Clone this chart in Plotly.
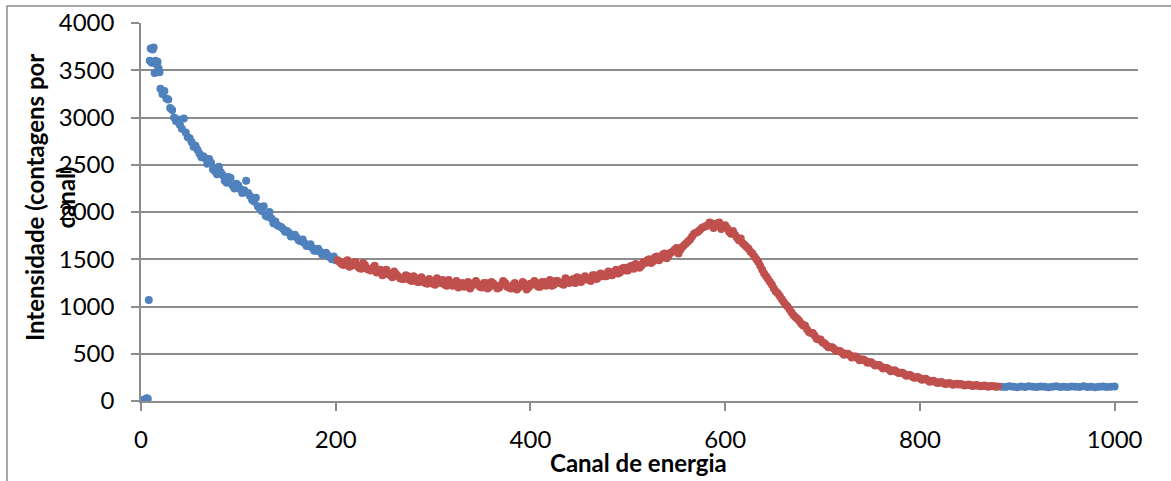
import plotly.graph_objects as go

# ---- data ----
blue_start_ch = [0, 1, 2, 3, 4, 5, 6, 7, 8, 9, 10, 11, 12, 13, 14, 15, 16, 17, 18, 19]
blue_start_val = [0, 5, 0, 10, 15, 20, 30, 25, 1070, 3600, 3730, 3580, 3720, 3740, 3470,
                  3600, 3560, 3590, 3520, 3480]

blue_mid_ch = list(range(20, 201, 4))
blue_mid_val = [3305, 3280, 3190, 3080, 2960, 2920, 2990, 2790, 2740, 2700,
                2620, 2590, 2510, 2520, 2430, 2480, 2390, 2310, 2360, 2250,
                2280, 2200, 2330, 2170, 2110, 2060, 2010, 1960, 2000, 1880,
                1860, 1840, 1790, 1780, 1750, 1730, 1690, 1670, 1640, 1620,
                1590, 1580, 1550, 1540, 1500, 1490]

blue_mid2_ch = list(range(22, 199, 4))
blue_mid2_val = [3250, 3200, 3100, 3000, 2980, 2880, 2840, 2780, 2690, 2660,
                 2580, 2570, 2560, 2450, 2400, 2420, 2330, 2370, 2280, 2300,
                 2240, 2230, 2200, 2130, 2150, 2040, 2060, 1950, 1930, 1900,
                 1850, 1820, 1800, 1740, 1760, 1700, 1710, 1640, 1660, 1590,
                 1610, 1550, 1570, 1520, 1530]

red_ch = list(range(204, 881, 4))
red_val = [1470, 1440, 1490, 1430, 1470, 1410, 1460, 1400, 1380, 1430,
           1370, 1330, 1390, 1330, 1370, 1320, 1290, 1330, 1280, 1320,
           1260, 1310, 1250, 1290, 1240, 1300, 1250, 1230, 1280, 1220,
           1270, 1230, 1210, 1260, 1220, 1270, 1210, 1250, 1190, 1260,
           1220, 1200, 1270, 1210, 1190, 1250, 1200, 1260, 1180, 1240,
           1270, 1210, 1260, 1220, 1280, 1230, 1270, 1240, 1300, 1250,
           1290, 1310, 1260, 1320, 1280, 1330, 1290, 1350, 1320, 1370,
           1330, 1390, 1360, 1410, 1380, 1430, 1450, 1410, 1470, 1490,
           1460, 1520, 1490, 1550, 1510, 1570, 1600, 1560, 1630, 1670,
           1710, 1770, 1790, 1830, 1850, 1890, 1830, 1880, 1820, 1860,
           1790, 1800, 1730, 1720, 1650, 1610, 1560, 1500, 1430, 1350,
           1290, 1230, 1160, 1110, 1050, 1000, 940, 890, 850, 800,
           760, 720, 690, 650, 620, 590, 570, 550, 530, 510,
           500, 485, 470, 455, 440, 425, 410, 395, 380, 365,
           350, 335, 320, 310, 300, 285, 272, 260, 250, 240,
           230, 220, 210, 202, 195, 190, 185, 182, 178, 175,
           172, 170, 168, 165, 162, 160, 158, 156, 155, 153]

red2_ch = list(range(202, 879, 4))
red2_val = [1490, 1450, 1470, 1420, 1450, 1430, 1400, 1440, 1390, 1410,
            1360, 1390, 1340, 1350, 1310, 1340, 1300, 1290, 1320, 1270,
            1300, 1260, 1280, 1240, 1270, 1230, 1260, 1280, 1220, 1250,
            1240, 1200, 1250, 1230, 1190, 1240, 1230, 1200, 1250, 1210,
            1240, 1190, 1230, 1250, 1200, 1230, 1180, 1220, 1240, 1200,
            1230, 1250, 1210, 1260, 1240, 1220, 1270, 1250, 1230, 1280,
            1270, 1250, 1300, 1280, 1300, 1270, 1330, 1310, 1340, 1320,
            1350, 1370, 1350, 1400, 1380, 1420, 1400, 1440, 1430, 1460,
            1500, 1480, 1530, 1510, 1560, 1540, 1580, 1620, 1600, 1650,
            1690, 1740, 1780, 1810, 1840, 1860, 1880, 1850, 1890, 1840,
            1830, 1770, 1760, 1700, 1670, 1630, 1580, 1530, 1470, 1390,
            1320, 1260, 1190, 1140, 1080, 1020, 970, 910, 870, 820,
            800, 730, 720, 660, 650, 610, 570, 570, 530, 530,
            490, 500, 460, 470, 430, 440, 405, 410, 375, 380,
            345, 350, 315, 325, 295, 300, 268, 275, 245, 255,
            225, 235, 205, 215, 190, 200, 180, 190, 172, 183,
            180, 165, 175, 160, 170, 155, 165, 152, 160, 150]

blue_end_ch = list(range(884, 1001, 4))
blue_end_val = [152, 148, 155, 150, 146, 153, 149, 157, 151, 147,
                154, 150, 145, 152, 156, 149, 151, 147, 153, 150,
                148, 155, 149, 152, 146, 151, 154, 148, 150, 153]

x_ticks = [0, 200, 400, 600, 800, 1000]
y_ticks = [0, 500, 1000, 1500, 2000, 2500, 3000, 3500, 4000]

BLUE = "#4F81BD"
RED = "#C0504D"
GRID = "#8C8C8C"
FONT = "Lato"

fig = go.Figure()
fig.add_trace(go.Scatter(
    x=blue_start_ch + blue_mid_ch + blue_mid2_ch + blue_end_ch,
    y=blue_start_val + blue_mid_val + blue_mid2_val + blue_end_val,
    mode="markers", marker=dict(color=BLUE, size=8), showlegend=False,
))
fig.add_trace(go.Scatter(
    x=red_ch + red2_ch, y=red_val + red2_val,
    mode="markers", marker=dict(color=RED, size=8), showlegend=False,
))

L, R, T, B = 141, 33, 23, 80
W, H = 1171, 481
pw, ph = W - L - R, H - T - B

fig.update_layout(
    width=W, height=H,
    margin=dict(l=L, r=R, t=T, b=B, autoexpand=False),
    paper_bgcolor="white", plot_bgcolor="white",
    font=dict(family=FONT, size=24, color="#000000"),
    xaxis=dict(
        range=[0, 1024], tickvals=x_ticks, ticktext=[str(v) for v in x_ticks],
        showgrid=False, zeroline=False, showline=True, linecolor=GRID, linewidth=1.5,
        ticks="outside", ticklen=8, tickcolor=GRID, tickwidth=1.5,
        ticklabelstandoff=8, automargin=False,
        tickfont=dict(family=FONT, size=24),
    ),
    yaxis=dict(
        range=[0, 4000], tickvals=y_ticks, ticktext=[str(v) for v in y_ticks],
        showgrid=True, gridcolor=GRID, gridwidth=1.5, zeroline=False,
        showline=True, linecolor=GRID, linewidth=1.5,
        ticks="outside", ticklen=8, tickcolor=GRID, tickwidth=1.5,
        ticklabelstandoff=12, automargin=False,
        tickfont=dict(family=FONT, size=24),
    ),
    annotations=[
        dict(text="<b>Canal de energia</b>", xref="paper", yref="paper",
             x=(638 - L) / pw, y=(H - B - 462) / ph, xanchor="center", yanchor="middle",
             showarrow=False, font=dict(family=FONT, size=24)),
        dict(text="<b>Intensidade (contagens por<br>canal)</b>", xref="paper", yref="paper",
             x=(50 - L) / pw, y=(H - B - 198) / ph, xanchor="center", yanchor="middle",
             textangle=-90, showarrow=False, font=dict(family=FONT, size=24)),
    ],
    shapes=[
        dict(type="rect", xref="paper", yref="paper",
             x0=(7 - L) / pw, x1=(1190 - L) / pw,
             y0=(H - B - 500) / ph, y1=(H - B - 6) / ph,
             line=dict(color=GRID, width=1.5), fillcolor="rgba(0,0,0,0)", layer="below"),
    ],
)

fig.write_html("out.html", config={"displayModeBar": False},
               post_script="document.body.style.margin='0px';")
